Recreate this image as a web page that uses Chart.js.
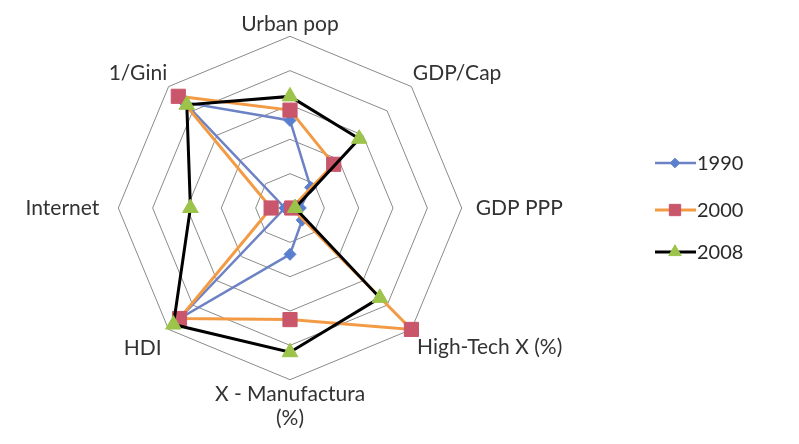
<!DOCTYPE html>
<html>
<head>
<meta charset="utf-8">
<script src="https://cdn.jsdelivr.net/npm/chart.js@4/dist/chart.umd.min.js"></script>
<style>
  body { margin: 0; background: #fff; }
  #radar { display: block; }
</style>
</head>
<body>
<canvas id="radar" width="799" height="444"></canvas>
<script>
// indicators, clockwise from the top
var axisLabels = ["Urban pop", "GDP/Cap", "GDP PPP", "High-Tech X (%)", ["X - Manufactura", "(%)"], "HDI", "Internet", "1/Gini"];
var years = ["1990", "2000", "2008"];
var v1990 = [0.51, 0.17, 0.06, 0.10, 0.27, 0.91, 0.03, 0.87];
var v2000 = [0.57, 0.36, 0.01, 1.00, 0.65, 0.91, 0.11, 0.92];
var v2008 = [0.65, 0.57, 0.03, 0.74, 0.84, 0.96, 0.58, 0.85];

var lineColors = ["#6d82c4", "#f39a45", "#000000"];
var markColors = ["#5b7fcf", "#c9566b", "#9cc34a"];
var markStyles = ["rectRot", "rect", "triangle"];
var markSizes = [6, 10, 9];
var lineWidths = [2.5, 3, 3];
// gap between outer ring and each axis label
var labelPads = [0, 2, 14, 8, 2, 10, 19, 2];

// legend drawn by hand on the right
var sideLegend = {
  id: "sideLegend",
  afterDraw: function(chart) {
    var ctx = chart.ctx;
    var rows = [163, 210, 252];
    ctx.save();
    for (var i = 0; i < years.length; i++) {
      var y = rows[i];
      ctx.strokeStyle = lineColors[i];
      ctx.lineWidth = lineWidths[i];
      ctx.beginPath();
      ctx.moveTo(655, y);
      ctx.lineTo(696, y);
      ctx.stroke();
      ctx.fillStyle = markColors[i];
      ctx.strokeStyle = markColors[i];
      ctx.lineWidth = 1;
      Chart.helpers.drawPoint(ctx, { pointStyle: markStyles[i], radius: markSizes[i] * 0.8, rotation: 0, borderWidth: 1 }, 675, y);
      ctx.fillStyle = "#2a2a2a";
      ctx.font = "20px Lato";
      ctx.textBaseline = "middle";
      ctx.fillText(years[i], 697, y + 1);
    }
    ctx.restore();
  }
};

var sets = [v1990, v2000, v2008].map(function(vals, i) {
  return {
    label: years[i],
    data: vals,
    fill: false,
    borderColor: lineColors[i],
    borderWidth: lineWidths[i],
    pointStyle: markStyles[i],
    pointRadius: markSizes[i],
    pointBackgroundColor: markColors[i],
    pointBorderColor: markColors[i],
    pointBorderWidth: 1,
    tension: 0,
    clip: false,
    order: 2 - i
  };
});

new Chart("radar", {
  type: "radar",
  data: { labels: axisLabels, datasets: sets },
  plugins: [sideLegend],
  options: {
    responsive: false,
    animation: false,
    layout: { padding: { left: 0, right: 209, top: 0, bottom: 0 } },
    plugins: { legend: { display: false }, tooltip: { enabled: false } },
    scales: {
      r: {
        min: 0,
        max: 1,
        ticks: { stepSize: 0.2, display: false },
        angleLines: { display: false },
        grid: { color: "#8a8a8a", lineWidth: 1 },
        pointLabels: {
          color: "#333333",
          font: { family: "Lato", size: 21, lineHeight: 1.15 },
          padding: function(c) { return labelPads[c.index]; }
        }
      }
    }
  }
});
</script>
</body>
</html>
